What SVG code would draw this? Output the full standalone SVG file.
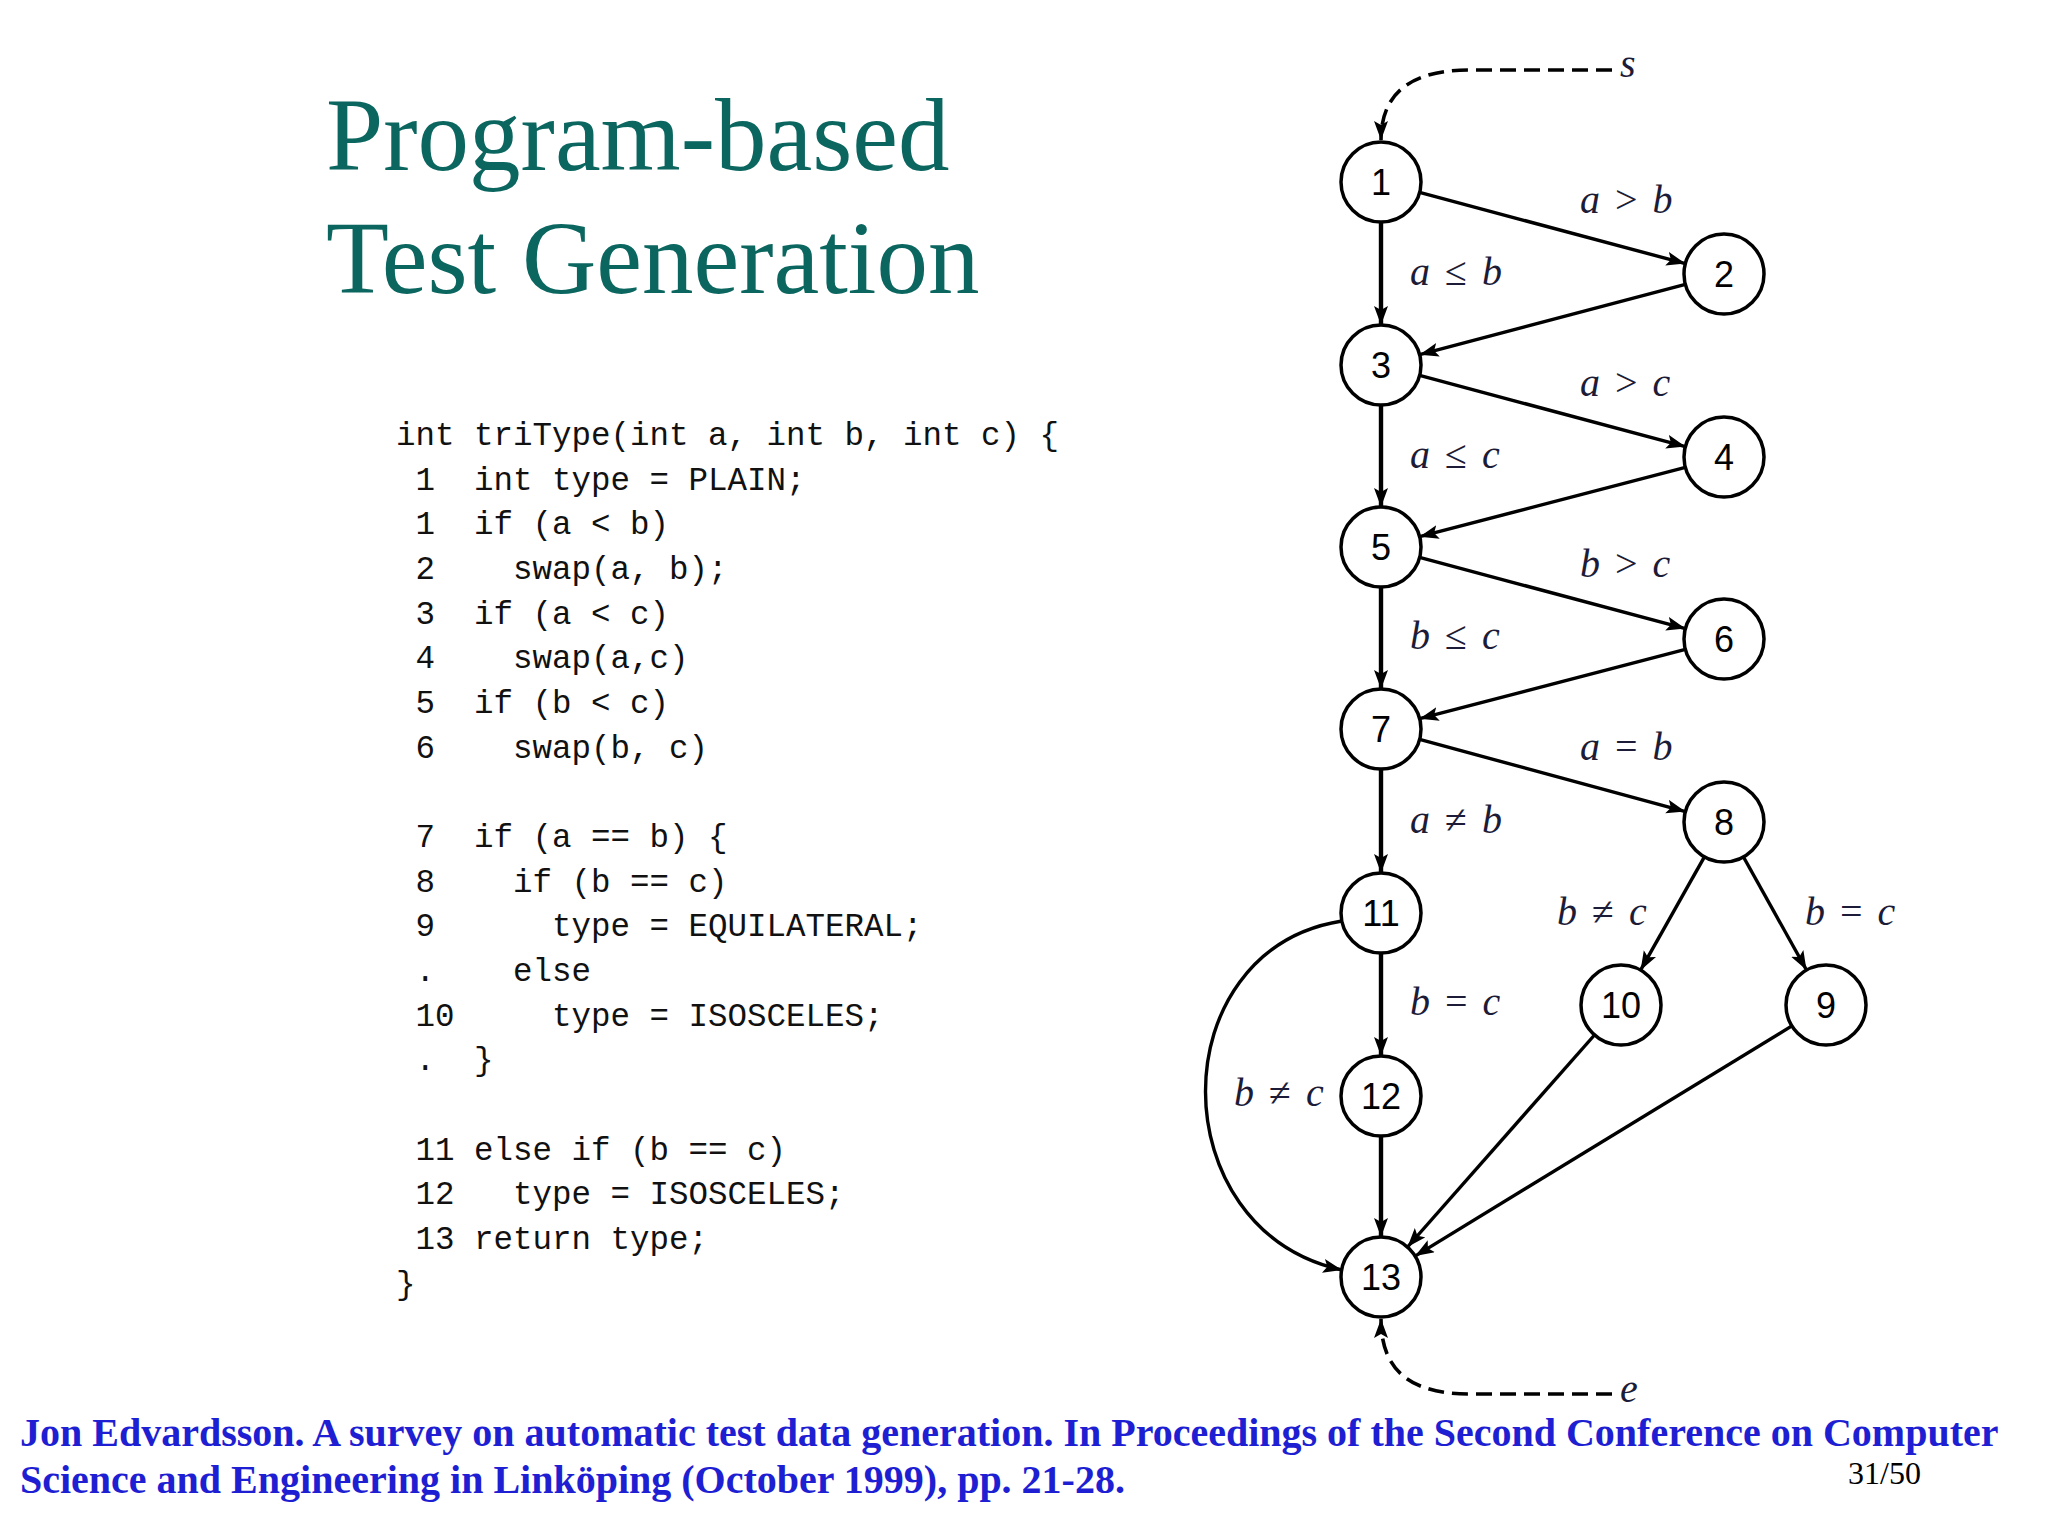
<svg xmlns="http://www.w3.org/2000/svg" width="2048" height="1536" viewBox="0 0 2048 1536">
<style>
.title{font-family:"Liberation Serif","Times New Roman",serif;font-size:103px;fill:#0b6660}
.code{font-family:"Liberation Mono","Courier New",monospace;font-size:32.5px;fill:#111;white-space:pre}
.node circle{fill:#fff;stroke:#000;stroke-width:3.5}
.node text{font-family:"Liberation Sans",Arial,sans-serif;font-size:36px;fill:#000;text-anchor:middle}
.edge{fill:none;stroke:#000;stroke-width:3.4}
.vert{stroke-width:4.4}
.dash{fill:none;stroke:#000;stroke-width:3.6;stroke-dasharray:16 8}
.lbl{font-family:"Liberation Serif","Times New Roman",serif;font-size:40px;font-style:italic;fill:#1c1c38}
.op{font-style:normal}
.foot{font-family:"Liberation Serif","Times New Roman",serif;font-size:40px;font-weight:bold;fill:#1e1ed2}
.page{font-family:"Liberation Serif","Times New Roman",serif;font-size:32px;fill:#000}
</style>
<defs>
<marker id="arr" markerWidth="22" markerHeight="16" refX="19" refY="7" orient="auto" markerUnits="userSpaceOnUse">
<path d="M0,0 L19,7 L0,14 L4,7 Z" fill="#000"/>
</marker>
</defs>
<rect width="2048" height="1536" fill="#fff"/>

<g id="title">
<text class="title" x="326" y="170">Program-based</text>
<text class="title" x="326" y="293">Test Generation</text>
</g>

<g id="code" xml:space="preserve">
<text class="code" x="396" y="445">int triType(int a, int b, int c) {</text>
<text class="code" x="396" y="489.7"> 1  int type = PLAIN;</text>
<text class="code" x="396" y="534.3"> 1  if (a &lt; b)</text>
<text class="code" x="396" y="579"> 2    swap(a, b);</text>
<text class="code" x="396" y="623.7"> 3  if (a &lt; c)</text>
<text class="code" x="396" y="668.3"> 4    swap(a,c)</text>
<text class="code" x="396" y="713"> 5  if (b &lt; c)</text>
<text class="code" x="396" y="757.7"> 6    swap(b, c)</text>
<text class="code" x="396" y="847"> 7  if (a == b) {</text>
<text class="code" x="396" y="891.7"> 8    if (b == c)</text>
<text class="code" x="396" y="936.3"> 9      type = EQUILATERAL;</text>
<text class="code" x="396" y="981"> .    else</text>
<text class="code" x="396" y="1025.7"> 10     type = ISOSCELES;</text>
<text class="code" x="396" y="1070.3"> .  }</text>
<text class="code" x="396" y="1159.7"> 11 else if (b == c)</text>
<text class="code" x="396" y="1204.3"> 12   type = ISOSCELES;</text>
<text class="code" x="396" y="1249"> 13 return type;</text>
<text class="code" x="396" y="1293.7">}</text>
</g>

<g id="connectors">
<path class="dash" d="M1612,70 L1470,70 C1405,70 1381,98 1381,140" marker-end="url(#arr)"/>
<path class="dash" d="M1612,1394 L1470,1394 C1405,1394 1381,1366 1381,1319" marker-end="url(#arr)"/>
<line class="edge vert" x1="1381" y1="222" x2="1381" y2="325" marker-end="url(#arr)"/>
<line class="edge vert" x1="1381" y1="405" x2="1381" y2="507" marker-end="url(#arr)"/>
<line class="edge vert" x1="1381" y1="587" x2="1381" y2="689" marker-end="url(#arr)"/>
<line class="edge vert" x1="1381" y1="769" x2="1381" y2="873" marker-end="url(#arr)"/>
<line class="edge vert" x1="1381" y1="953" x2="1381" y2="1056" marker-end="url(#arr)"/>
<line class="edge vert" x1="1381" y1="1136" x2="1381" y2="1237" marker-end="url(#arr)"/>
<line class="edge" x1="1419.6" y1="192.4" x2="1685.4" y2="263.6" marker-end="url(#arr)"/>
<line class="edge" x1="1685.4" y1="284.3" x2="1419.6" y2="354.7" marker-end="url(#arr)"/>
<line class="edge" x1="1419.6" y1="375.4" x2="1685.4" y2="446.6" marker-end="url(#arr)"/>
<line class="edge" x1="1685.4" y1="467.3" x2="1419.6" y2="536.7" marker-end="url(#arr)"/>
<line class="edge" x1="1419.6" y1="557.4" x2="1685.4" y2="628.6" marker-end="url(#arr)"/>
<line class="edge" x1="1685.4" y1="649.3" x2="1419.6" y2="718.7" marker-end="url(#arr)"/>
<line class="edge" x1="1419.6" y1="739.4" x2="1685.4" y2="811.6" marker-end="url(#arr)"/>
<line class="edge" x1="1704.4" y1="856.8" x2="1640.6" y2="970.2" marker-end="url(#arr)"/>
<line class="edge" x1="1743.5" y1="857" x2="1806.5" y2="970" marker-end="url(#arr)"/>
<line class="edge" x1="1594.5" y1="1035" x2="1407.5" y2="1247" marker-end="url(#arr)"/>
<line class="edge" x1="1791.9" y1="1025.9" x2="1415.1" y2="1256.1" marker-end="url(#arr)"/>
<path class="edge" d="M1342,921 C1160,950 1160,1230 1342,1270" marker-end="url(#arr)"/>
</g>

<g id="labels">
<text class="lbl" x="1620" y="77">s</text>
<text class="lbl" x="1620" y="1402">e</text>
<text class="lbl" x="1580" y="213">a<tspan class="op" dx="15">&gt;</tspan><tspan dx="15">b</tspan></text>
<text class="lbl" x="1410" y="285">a<tspan class="op" dx="15">≤</tspan><tspan dx="15">b</tspan></text>
<text class="lbl" x="1580" y="396">a<tspan class="op" dx="15">&gt;</tspan><tspan dx="15">c</tspan></text>
<text class="lbl" x="1410" y="468">a<tspan class="op" dx="15">≤</tspan><tspan dx="15">c</tspan></text>
<text class="lbl" x="1580" y="577">b<tspan class="op" dx="15">&gt;</tspan><tspan dx="15">c</tspan></text>
<text class="lbl" x="1410" y="649">b<tspan class="op" dx="15">≤</tspan><tspan dx="15">c</tspan></text>
<text class="lbl" x="1580" y="760">a<tspan class="op" dx="15">=</tspan><tspan dx="15">b</tspan></text>
<text class="lbl" x="1410" y="833">a<tspan class="op" dx="15">≠</tspan><tspan dx="15">b</tspan></text>
<text class="lbl" x="1557" y="925">b<tspan class="op" dx="15">≠</tspan><tspan dx="15">c</tspan></text>
<text class="lbl" x="1805" y="925">b<tspan class="op" dx="15">=</tspan><tspan dx="15">c</tspan></text>
<text class="lbl" x="1410" y="1015">b<tspan class="op" dx="15">=</tspan><tspan dx="15">c</tspan></text>
<text class="lbl" x="1234" y="1106">b<tspan class="op" dx="15">≠</tspan><tspan dx="15">c</tspan></text>
</g>

<g id="n1" class="node"><circle cx="1381" cy="182" r="40"/><text x="1381" y="195">1</text></g>
<g id="n2" class="node"><circle cx="1724" cy="274" r="40"/><text x="1724" y="287">2</text></g>
<g id="n3" class="node"><circle cx="1381" cy="365" r="40"/><text x="1381" y="378">3</text></g>
<g id="n4" class="node"><circle cx="1724" cy="457" r="40"/><text x="1724" y="470">4</text></g>
<g id="n5" class="node"><circle cx="1381" cy="547" r="40"/><text x="1381" y="560">5</text></g>
<g id="n6" class="node"><circle cx="1724" cy="639" r="40"/><text x="1724" y="652">6</text></g>
<g id="n7" class="node"><circle cx="1381" cy="729" r="40"/><text x="1381" y="742">7</text></g>
<g id="n8" class="node"><circle cx="1724" cy="822" r="40"/><text x="1724" y="835">8</text></g>
<g id="n11" class="node"><circle cx="1381" cy="913" r="40"/><text x="1381" y="926">11</text></g>
<g id="n10" class="node"><circle cx="1621" cy="1005" r="40"/><text x="1621" y="1018">10</text></g>
<g id="n9" class="node"><circle cx="1826" cy="1005" r="40"/><text x="1826" y="1018">9</text></g>
<g id="n12" class="node"><circle cx="1381" cy="1096" r="40"/><text x="1381" y="1109">12</text></g>
<g id="n13" class="node"><circle cx="1381" cy="1277" r="40"/><text x="1381" y="1290">13</text></g>

<g id="footer">
<text class="foot" x="20" y="1446">Jon Edvardsson. A survey on automatic test data generation. In Proceedings of the Second Conference on Computer</text>
<text class="foot" x="20" y="1493">Science and Engineering in Linköping (October 1999), pp. 21-28.</text>
<text class="page" x="1848" y="1484">31/50</text>
</g>
</svg>
